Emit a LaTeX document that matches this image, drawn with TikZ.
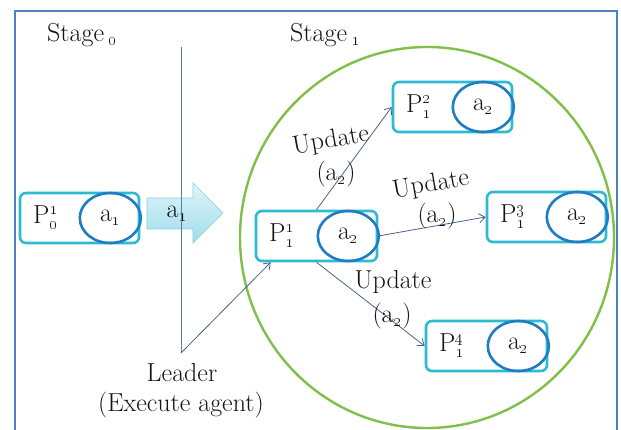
\documentclass[tikz,border=0pt]{standalone}
\usepackage{amsmath}
\usetikzlibrary{arrows.meta,shapes.geometric}

\definecolor{framec}{RGB}{79,129,189}
\definecolor{boxc}{RGB}{44,186,212}
\definecolor{ovalc}{RGB}{30,125,195}
\definecolor{stagec}{RGB}{128,192,72}
\definecolor{linkc}{RGB}{72,100,140}
\definecolor{dividerc}{RGB}{95,125,150}
\definecolor{txt}{RGB}{20,20,20}
\definecolor{arrowtop}{RGB}{222,246,250}
\definecolor{arrowbot}{RGB}{160,220,234}
\definecolor{arrowedge}{RGB}{140,206,222}

\tikzset{
  lbl/.style={font=\fontsize{26}{30}\selectfont, text=txt, inner sep=0pt},
  box/.style={draw=boxc, line width=2.6pt, rounded corners=6pt,
              minimum width=119pt, minimum height=50pt, inner sep=0pt},
  oval/.style={lbl, draw=ovalc, line width=2.6pt, ellipse,
               minimum width=61pt, minimum height=50pt},
  link/.style={draw=linkc, line width=0.8pt, -{Straight Barb[length=6pt,width=9pt]}},
  divider/.style={draw=dividerc, line width=0.9pt},
}

% oldstyle figures for indices
\newcommand{\osn}[1]{\text{\oldstylenums{#1}}}
\newcommand{\pname}[2]{P$_{\osn{#1}}^{\osn{#2}}$}
\newcommand{\aname}[1]{a$_{\osn{#1}}$}

\begin{document}
\begin{tikzpicture}[x=1pt,y=-1pt]
  \useasboundingbox (0,0) rectangle (621,430);
  \fill[white] (0,0) rectangle (621,430);
  \clip (0,0) rectangle (621,430);

  % outer frame
  \draw[framec, line width=2pt] (15,11) rectangle (617,445);

  % stage labels
  \node[lbl, anchor=base west] (st0) at (47,42) {Stage\,$_{\osn{0}}$};
  \node[lbl, anchor=base west] (st1) at (290,42) {Stage\,$_{\osn{1}}$};

  % stage 1 region
  \node[draw=stagec, line width=2.4pt, ellipse, inner sep=0pt,
        minimum width=374pt, minimum height=381pt] (region) at (427,237.5) {};

  % transfer arrow a1
  \shade[top color=arrowtop, bottom color=arrowbot, draw=arrowedge, line width=0.6pt]
    (147,198) -- (193,198) -- (193,183) -- (223,213) -- (193,243) -- (193,229) -- (147,229) -- cycle;
  \node[lbl] (a1) at (177,214) {\aname{1}};

  % stage divider
  \coordinate (divtop) at (181,47);
  \coordinate (divfoot) at (181,353);
  \draw[divider] (divtop) -- (divfoot);

  % agents
  \node[box] (p0) at (79.5,218) {};
  \node[oval] (p0a) at ([xshift=-30pt]p0.east) {\aname{1}};
  \node[lbl] at ([xshift=27pt]p0.west) {\pname{0}{1}};

  \node[box, minimum width=121pt] (p11) at (316.5,236) {};
  \node[oval] (p11a) at ([xshift=-30pt]p11.east) {\aname{2}};
  \node[lbl] at ([xshift=27pt]p11.west) {\pname{1}{1}};

  \node[box] (p12) at (452.5,107) {};
  \node[oval] (p12a) at ([xshift=-30pt]p12.east) {\aname{2}};
  \node[lbl] at ([xshift=27pt]p12.west) {\pname{1}{2}};

  \node[box] (p13) at (546.5,217) {};
  \node[oval] (p13a) at ([xshift=-30pt]p13.east) {\aname{2}};
  \node[lbl] at ([xshift=27pt]p13.west) {\pname{1}{3}};

  \node[box, minimum width=121pt] (p14) at (486.5,346) {};
  \node[oval] (p14a) at ([xshift=-30pt]p14.east) {\aname{2}};
  \node[lbl] at ([xshift=27pt]p14.west) {\pname{1}{4}};

  % connectors
  \draw[link] (divfoot) -- ([xshift=16pt]p11.south west);
  \draw[link] (p11.north) -- (p12.west);
  \draw[link] (p11.east) -- (p13.west);
  \draw[link] (p11.south) -- (p14.west);

  % update labels
  \node[lbl, rotate=10] (u2) at (331,141) {Update};
  \node[lbl] (u2a) at (336,174) {(\aname{2})};
  \node[lbl, rotate=10] (u3) at (431,185) {Update};
  \node[lbl] (u3a) at (437,216) {(\aname{2})};
  \node[lbl] (u4) at (393,282) {Update};
  \node[lbl] (u4a) at (392,316) {(\aname{2})};

  % leader label
  \node[lbl] (lead) at (182,373) {Leader};
  \node[lbl] (exec) at (181,405) {(Execute agent)};
\end{tikzpicture}
\end{document}
